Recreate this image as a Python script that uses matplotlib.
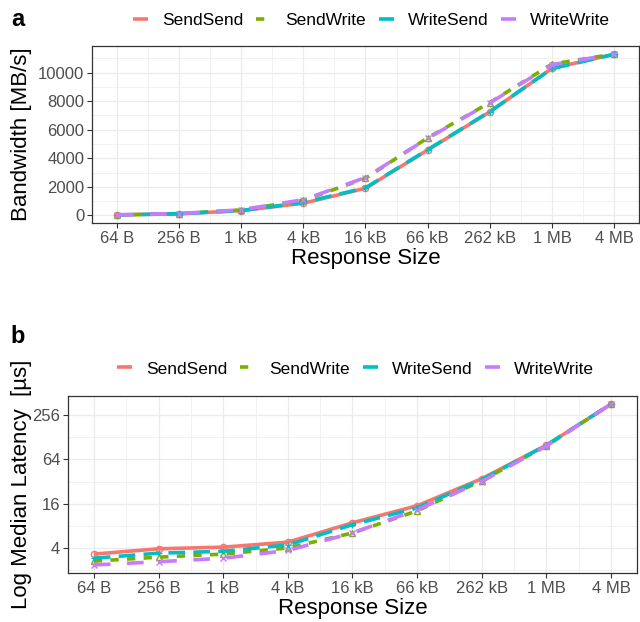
import numpy as np
import matplotlib
matplotlib.use("Agg")
import matplotlib.pyplot as plt
from matplotlib.lines import Line2D

plt.rcParams['font.family'] = ['Liberation Sans', 'DejaVu Sans']

# response sizes (bytes) and their labels
sizes = [64, 256, 1024, 4096, 16384, 65536, 262144, 1048576, 4194304]
size_labels = ["64 B", "256 B", "1 kB", "4 kB", "16 kB", "66 kB", "262 kB", "1 MB", "4 MB"]

series = ["SendSend", "SendWrite", "WriteSend", "WriteWrite"]

# panel a: bandwidth [MB/s]
bw_sendsend = [30, 110, 330, 850, 1900, 4580, 7250, 10300, 11280]
bw_sendwrite = [35, 125, 380, 1050, 2600, 5430, 7900, 10600, 11300]
bw_writesend = [32, 115, 340, 900, 1930, 4600, 7270, 10280, 11280]
bw_writewrite = [38, 130, 390, 1100, 2650, 5400, 7880, 10550, 11300]

# panel b: median latency [us]
lat_sendsend = [3.3, 3.9, 4.1, 4.8, 8.8, 15.0, 35, 100, 362]
lat_sendwrite = [2.65, 3.0, 3.3, 4.0, 6.4, 12.8, 33, 98, 362]
lat_writesend = [2.9, 3.4, 3.6, 4.4, 8.3, 14.0, 34, 100, 362]
lat_writewrite = [2.35, 2.6, 2.9, 3.7, 6.4, 13.2, 32, 98, 362]

colors = ["#F8766D", "#7CAE00", "#00BFC4", "#C77CFF"]
dashes = [None, (2.3, 2.3), (4.6, 2.3), (4.6, 4.6)]
markers = ["o", "^", "+", "x"]
LW = 2.6


def style_axes(ax):
    for sp in ax.spines.values():
        sp.set_color("#333333")
        sp.set_linewidth(0.9)
    ax.tick_params(which="major", length=3.5, width=0.8, color="#333333",
                   labelsize=12, labelcolor="#4D4D4D", pad=2)
    ax.tick_params(which="minor", length=0)
    ax.grid(which="major", color="#EBEBEB", lw=0.9)
    ax.grid(which="minor", color="#EBEBEB", lw=0.45)
    ax.set_axisbelow(True)


def draw(ax, data):
    for vals, c, d, m in zip(data, colors, dashes, markers):
        ln, = ax.plot(sizes, vals, color=c, lw=LW, marker=m, ms=4.5,
                      mfc="none", mew=1.0, solid_capstyle="butt", dash_capstyle="butt")
        if d is not None:
            ln.set_dashes(d)


def legend(ax, xc, yc):
    handles = []
    for c, d in zip(colors, dashes):
        h = Line2D([0], [0], color=c, lw=LW, solid_capstyle="butt", dash_capstyle="butt")
        if d is not None:
            h.set_dashes(d)
        handles.append(h)
    ax.legend(handles, series, ncol=4, loc="center", bbox_to_anchor=(xc, yc),
              bbox_transform=ax.figure.transFigure, frameon=False, fontsize=12.5,
              handlelength=0.86, handletextpad=0.8, columnspacing=0.75,
              borderpad=0, borderaxespad=0)


fig = plt.figure(figsize=(6.4, 6.22), dpi=100)

# panel a
ax1 = fig.add_axes([92 / 640, 1 - 223 / 622, 547 / 640, 177 / 622])
draw(ax1, [bw_sendsend, bw_sendwrite, bw_writesend, bw_writewrite])
ax1.set_xscale("log")
ax1.margins(x=0.05, y=0.05)
ax1.set_xticks(sizes)
ax1.set_xticklabels(size_labels)
ax1.set_xticks([np.sqrt(a * b) for a, b in zip(sizes[:-1], sizes[1:])], minor=True)
ax1.set_yticks([0, 2000, 4000, 6000, 8000, 10000])
ax1.set_yticks([1000, 3000, 5000, 7000, 9000, 11000], minor=True)
ax1.xaxis.set_minor_formatter(plt.NullFormatter())
style_axes(ax1)
ax1.set_xlabel("Response Size", fontsize=16)
ax1.xaxis.set_label_coords(0.5, -0.198)
ax1.xaxis.label.set_va("center")
ax1.set_ylabel("Bandwidth [MB/s]", fontsize=16)
ax1.yaxis.set_label_coords(-0.128, 0.5)
ax1.yaxis.label.set_va("center")
legend(ax1, 371.5 / 640, 1 - 20 / 622)

# panel b
ax2 = fig.add_axes([68 / 640, 1 - 573 / 622, 569 / 640, 177 / 622])
draw(ax2, [lat_sendsend, lat_sendwrite, lat_writesend, lat_writewrite])
ax2.set_xscale("log")
ax2.set_yscale("log", base=2)
ax2.margins(x=0.05, y=0.05)
ax2.set_xticks(sizes)
ax2.set_xticklabels(size_labels)
ax2.set_xticks([np.sqrt(a * b) for a, b in zip(sizes[:-1], sizes[1:])], minor=True)
ax2.xaxis.set_minor_formatter(plt.NullFormatter())
ax2.set_yticks([4, 16, 64, 256])
ax2.set_yticklabels(["4", "16", "64", "256"])
ax2.set_yticks([2, 8, 32, 128], minor=True)
ax2.yaxis.set_minor_formatter(plt.NullFormatter())
style_axes(ax2)
ax2.set_xlabel("Response Size", fontsize=16)
ax2.xaxis.set_label_coords(0.5, -0.198)
ax2.xaxis.label.set_va("center")
ax2.set_ylabel("Log Median Latency  [\u00b5s]", fontsize=16)
ax2.yaxis.set_label_coords(-0.081, 0.5)
ax2.yaxis.label.set_va("center")
legend(ax2, 355.5 / 640, 1 - 369 / 622)

fig.text(18 / 640, 1 - 26 / 622, "a", fontsize=17, fontweight="bold", ha="center", va="baseline")
fig.text(18 / 640, 1 - 343 / 622, "b", fontsize=17, fontweight="bold", ha="center", va="baseline")

fig.savefig("out.png", dpi=100)
